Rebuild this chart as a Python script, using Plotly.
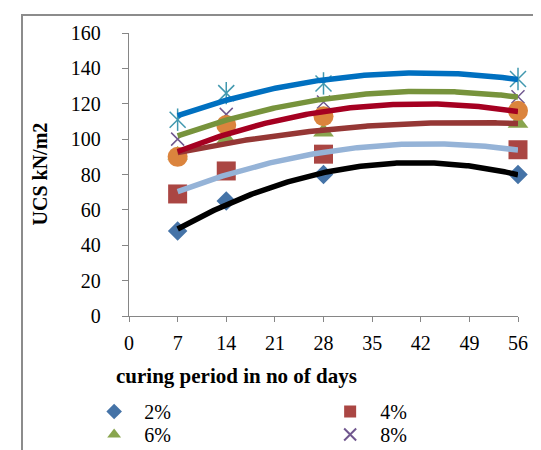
import numpy as np
import plotly.graph_objects as go

days = [7, 14, 28, 56]
series_names = ["2%", "4%", "6%", "8%", "10%", "12%"]
ucs_2 = [48, 65, 80, 80]
ucs_4 = [69, 82, 91.5, 94]
ucs_6 = [91, 100, 104, 109]
ucs_8 = [100, 114, 121, 124]
ucs_10 = [111, 126, 131.5, 134]
ucs_12 = [90, 108, 113, 116]
x_ticks = [0, 7, 14, 21, 28, 35, 42, 49, 56]
y_ticks = [0, 20, 40, 60, 80, 100, 120, 140, 160]

values = [ucs_2, ucs_4, ucs_6, ucs_8, ucs_10, ucs_12]
marker_styles = [
    dict(symbol="diamond", size=15, color="#4573A7"),
    dict(symbol="square", size=19, color="#AA4643"),
    dict(symbol="triangle-up", size=18, color="#89A54E"),
    dict(symbol="x-thin-open", size=13, color="#71588F", line=dict(width=1.5, color="#71588F")),
    dict(symbol="x-thin-open", size=16, color="#4198AF", line=dict(width=1.5, color="#4198AF")),
    dict(symbol="circle", size=20, color="#DB843D"),
]
legend_ids = ["legend", "legend", "legend2", "legend2", None, None]
trend_colors = ["#000000", "#95B3D7", "#953735", "#77933C", "#0070C0", "#A50021"]

fig = go.Figure()
for i, (name, vals, ms) in enumerate(zip(series_names, values, marker_styles)):
    kw = dict(legend=legend_ids[i]) if legend_ids[i] else {}
    fig.add_trace(go.Scatter(
        x=days, y=vals, mode="markers", name=name, marker=ms,
        showlegend=legend_ids[i] is not None, cliponaxis=False, **kw,
    ))
    if name == "10%":
        fig.add_trace(go.Scatter(
            x=days, y=vals, mode="markers", showlegend=False, cliponaxis=False,
            marker=dict(symbol="line-ns-open", size=16, color="#4198AF",
                        line=dict(width=1.5, color="#4198AF")),
        ))

xs = np.linspace(min(days), max(days), 200)
for vals, col in zip(values, trend_colors):
    coef = np.polyfit(days, vals, 2)
    fig.add_trace(go.Scatter(
        x=xs, y=np.polyval(coef, xs), mode="lines", showlegend=False,
        line=dict(color=col, width=5.5), cliponaxis=False, hoverinfo="skip",
    ))

serif = "Liberation Serif"
axis_col = "#868686"
leg_common = dict(orientation="h", xanchor="left", yanchor="top",
                  entrywidth=171, entrywidthmode="pixels", itemwidth=50,
                  itemsizing="constant", font=dict(size=20, family=serif),
                  bgcolor="rgba(0,0,0,0)")
fig.update_layout(
    width=541, height=450,
    margin=dict(l=121, r=31, t=25, b=142, autoexpand=False),
    paper_bgcolor="white", plot_bgcolor="white",
    font=dict(family=serif, size=18, color="black"),
    xaxis=dict(range=[0, 56], tickvals=x_ticks, ticktext=[str(v) for v in x_ticks],
               showgrid=False, zeroline=False, showline=True, linecolor=axis_col,
               linewidth=1.3, ticks="outside", ticklen=5, tickcolor=axis_col,
               tickwidth=1.3, ticklabelstandoff=4, tickfont=dict(size=20),
               automargin=False),
    yaxis=dict(range=[0, 160], tickvals=y_ticks, ticktext=[str(v) for v in y_ticks],
               showgrid=False, zeroline=False, showline=True, linecolor=axis_col,
               linewidth=1.3, ticks="outside", ticklen=6, tickcolor=axis_col,
               tickwidth=1.3, ticklabelstandoff=17, tickfont=dict(size=20),
               automargin=False),
    legend=dict(x=-0.1153, y=(308 - 384) / 283, **leg_common),
    legend2=dict(x=-0.1153, y=(308 - 407) / 283, **leg_common),
    showlegend=True,
    annotations=[
        dict(text="<b>curing period in no of days</b>", xref="paper", yref="paper",
             x=(228 - 121) / 389, y=(308 - 368) / 283, xanchor="center", yanchor="middle",
             showarrow=False, font=dict(size=21, family=serif)),
        dict(text="<b>UCS kN/m2</b>", xref="paper", yref="paper",
             x=(31 - 121) / 389, y=0.5, xanchor="center", yanchor="middle",
             textangle=-90, showarrow=False, font=dict(size=20, family=serif)),
    ],
    shapes=[
        dict(type="path", xref="paper", yref="paper",
             path="M %f,%f L %f,%f L %f,%f" % ((14 - 121) / 389, (308 - 452) / 283,
                                             (14 - 121) / 389, (308 - 7) / 283,
                                             (545 - 121) / 389, (308 - 7) / 283),
             line=dict(color="#8C8C8C", width=2)),
    ],
)

fig.write_html("out.html")
